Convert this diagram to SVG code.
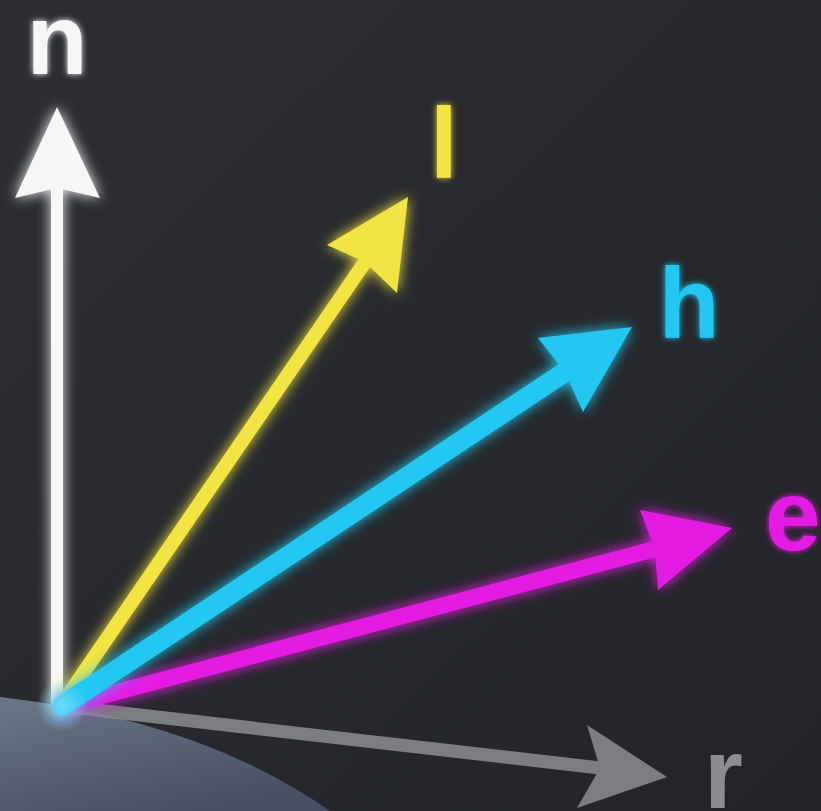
<svg xmlns="http://www.w3.org/2000/svg" width="821" height="811" viewBox="0 0 821 811">
  <defs>
    <linearGradient id="bg" x1="0" y1="0" x2="1" y2="1">
      <stop offset="0" stop-color="#2b2e32"/>
      <stop offset="1" stop-color="#222428"/>
    </linearGradient>
    <linearGradient id="surf" x1="0" y1="0" x2="0.6" y2="1">
      <stop offset="0" stop-color="#6b7688"/>
      <stop offset="1" stop-color="#465062"/>
    </linearGradient>
    <radialGradient id="spot" cx="62" cy="706" r="26" gradientUnits="userSpaceOnUse">
      <stop offset="0" stop-color="#8fe0ff" stop-opacity="0.7"/>
      <stop offset="1" stop-color="#8fe0ff" stop-opacity="0"/>
    </radialGradient>
    <filter id="glow" x="-30%" y="-30%" width="160%" height="160%">
      <feGaussianBlur in="SourceGraphic" stdDeviation="7" result="b"/>
      <feMerge>
        <feMergeNode in="b"/>
        <feMergeNode in="SourceGraphic"/>
      </feMerge>
    </filter>
    <filter id="soft" x="-30%" y="-30%" width="160%" height="160%">
      <feGaussianBlur in="SourceGraphic" stdDeviation="3" result="b"/>
      <feMerge>
        <feMergeNode in="b"/>
        <feMergeNode in="SourceGraphic"/>
      </feMerge>
    </filter>
  </defs>
  <style>
    .lbl { font-family: "Liberation Sans", Arial, sans-serif; font-weight: bold; font-size: 100px; }
    .shaft { fill: none; stroke-linecap: round; }
  </style>

  <rect width="821" height="811" fill="url(#bg)"/>

  <g id="surface">
    <path d="M0,697 Q200,720 330,811 L0,811 Z" fill="url(#surf)"/>
  </g>

  <g id="connectors">
    <g id="arrow-r" opacity="0.85">
      <line class="shaft" x1="70" y1="707" x2="600" y2="768" stroke="#8b8d90" stroke-width="13"/>
      <polygon points="667,777 587,725 600,768 577,808" fill="#8b8d90"/>
    </g>
    <g id="arrow-n" filter="url(#glow)">
      <line class="shaft" x1="57" y1="702" x2="57" y2="190" stroke="#f6f6f6" stroke-width="12"/>
      <polygon points="57,107 100,198 57,188 15,198" fill="#f6f6f6"/>
    </g>
    <g id="arrow-l" filter="url(#glow)">
      <line class="shaft" x1="62" y1="704" x2="365" y2="262" stroke="#f2e443" stroke-width="14"/>
      <polygon points="408,197 397,293 365,262 327,245" fill="#f2e443"/>
    </g>
    <g id="arrow-e" filter="url(#glow)">
      <line class="shaft" x1="64" y1="706" x2="655" y2="549" stroke="#e41fe3" stroke-width="16"/>
      <polygon points="732,528 658,590 655,549 640,510" fill="#e41fe3"/>
    </g>
    <g id="arrow-h" filter="url(#glow)">
      <line class="shaft" x1="62" y1="706" x2="565" y2="372" stroke="#22c8f2" stroke-width="20"/>
      <polygon points="632,327 583,412 565,372 538,338" fill="#22c8f2"/>
    </g>
    <circle cx="63" cy="706" r="26" fill="url(#spot)"/>
  </g>

  <g id="node-n" filter="url(#soft)">
    <text class="lbl" x="57" y="74" text-anchor="middle" fill="#f6f6f6" font-size="96">n</text>
  </g>
  <g id="node-l" filter="url(#soft)">
    <text class="lbl" x="444" y="178" text-anchor="middle" fill="#f2e443">l</text>
  </g>
  <g id="node-h" filter="url(#soft)">
    <text class="lbl" x="689" y="338" text-anchor="middle" fill="#22c8f2">h</text>
  </g>
  <g id="node-e" filter="url(#soft)">
    <text class="lbl" x="765" y="550" fill="#e41fe3">e</text>
  </g>
  <g id="node-r">
    <text class="lbl" x="704" y="808" fill="#8b8d90">r</text>
  </g>
</svg>
